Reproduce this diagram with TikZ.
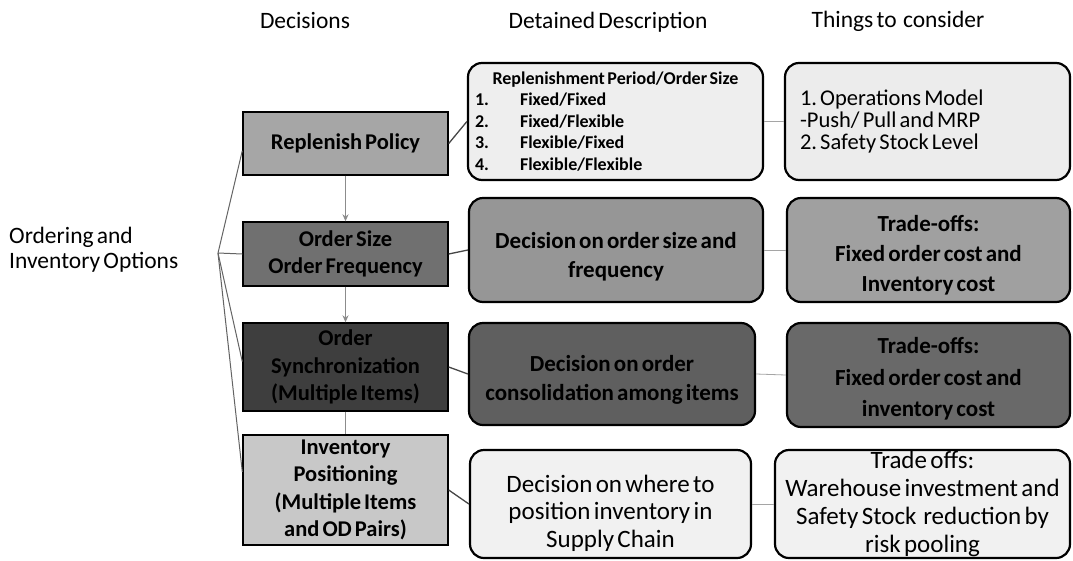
\documentclass[tikz,border=0pt]{standalone}
\usepackage{fontspec}
\setmainfont{Carlito}[WordSpace=0.6]
\usetikzlibrary{arrows.meta}
\definecolor{dA}{RGB}{166,166,166}
\definecolor{dB}{RGB}{112,112,112}
\definecolor{dC}{RGB}{62,62,62}
\definecolor{dD}{RGB}{200,200,200}
\definecolor{mA}{RGB}{238,238,238}
\definecolor{mB}{RGB}{150,150,150}
\definecolor{mC}{RGB}{95,95,95}
\definecolor{mD}{RGB}{241,241,241}
\definecolor{rA}{RGB}{236,236,236}
\definecolor{rB}{RGB}{160,160,160}
\definecolor{rC}{RGB}{105,105,105}
\definecolor{rD}{RGB}{241,241,241}
\definecolor{fanc}{RGB}{100,100,100}
\definecolor{linkc}{RGB}{70,70,70}
\definecolor{softc}{RGB}{165,165,165}
\definecolor{arrc}{RGB}{140,140,140}
\newcommand\fsz[2]{\fontsize{#1}{#2}\selectfont}
\newcommand\tightsp{\spaceskip=0.14em plus 0.05em\xspaceskip=0.14em plus 0.05em\relax}
\newcommand\topstrut[1]{\rule{0pt}{#1}}
\begin{document}
\frenchspacing
\begin{tikzpicture}[x=1pt,y=-1pt,
  decbox/.style={draw=black, line width=1.4pt, minimum width=205pt, inner sep=0pt,
     align=center, font=\fsz{22.5}{27.5}\bfseries},
  roundbox/.style={draw=black, line width=2.2pt, rounded corners=14pt, inner sep=0pt},
  head/.style={anchor=base, font=\fsz{23.5}{26}},
  fanline/.style={draw=fanc, line width=1pt},
  linkline/.style={draw=linkc, line width=1.3pt},
  softline/.style={draw=softc, line width=0.8pt},
  downarrow/.style={draw=arrc, line width=1pt, -{Stealth[length=7pt,width=6pt]}},
]
\useasboundingbox (0,0) rectangle (1073,560);
\fill[white] (0,0) rectangle (1073,560);

% headers
\node[head] (h1) at (305,28) {Decisions};
\node[head] (h2) at (608,28) {Detained Description};
\node[head] (h3) at (898,27) {Things to\ \ consider};

% left label
\node[anchor=west, align=left, inner sep=0pt, font=\fsz{23.5}{25}] (lab) at (9,250)
  {Ordering and\\Inventory Options};
\coordinate (fan) at (218,253);

% decision boxes
\node[decbox, fill=dA, minimum height=63pt] (d1) at (345.5,143.5) {Replenish Policy};
\node[decbox, fill=dB, minimum height=64pt] (d2) at (345.5,254) {Order Size\\Order Frequency};
\node[decbox, fill=dC, minimum height=88pt] (d3) at (345.5,367) {Order\\Synchronization\\(Multiple Items)};
\node[decbox, fill=dD, minimum height=110pt] (d4) at (345.5,490) {Inventory\\Positioning\\(Multiple Items\\and OD Pairs)};

% middle boxes
\node[roundbox, fill=mA, minimum width=295pt, minimum height=117pt, text width=295pt,
      align=left, font=\fsz{18}{21.5}\bfseries] (m1) at (615.5,121.5)
  {\tightsp\makebox[295pt]{Replenishment Period/Order Size}\\
   \hspace*{7pt}\makebox[45pt][l]{1.}Fixed/Fixed\\
   \hspace*{7pt}\makebox[45pt][l]{2.}Fixed/Flexible\\
   \hspace*{7pt}\makebox[45pt][l]{3.}Flexible/Fixed\\
   \hspace*{7pt}\makebox[45pt][l]{4.}Flexible/Flexible};
\node[roundbox, fill=mB, minimum width=294pt, minimum height=104pt, align=center,
      font=\fsz{23}{29}\bfseries] (m2) at (616,250)
  {\topstrut{30pt}Decision on order size and\\frequency};
\node[roundbox, fill=mC, minimum width=286pt, minimum height=102pt, align=center,
      font=\fsz{23}{29}\bfseries] (m3) at (612,374)
  {\topstrut{28pt}Decision on order\\consolidation among items};
\node[roundbox, fill=mD, minimum width=281pt, minimum height=108pt, align=center,
      font=\fsz{25}{27.5}] (m4) at (610.5,504)
  {\topstrut{36pt}Decision on where to\\position inventory in\\Supply Chain};

% right boxes
\node[roundbox, fill=rA, minimum width=285pt, minimum height=117pt, text width=255pt,
      inner xsep=15pt, align=left, font=\fsz{22.5}{22}] (r1) at (927.5,121.5)
  {\tightsp 1. Operations Model\\-Push/ Pull and MRP\\2. Safety Stock Level};
\node[roundbox, fill=rB, minimum width=283pt, minimum height=104pt, align=center,
      font=\fsz{23}{30}\bfseries] (r2) at (928.5,250)
  {\topstrut{26pt}Trade-offs:\\Fixed order cost and\\Inventory cost};
\node[roundbox, fill=rC, minimum width=283pt, minimum height=104pt, align=center,
      font=\fsz{23}{31.5}\bfseries] (r3) at (928.5,375)
  {\topstrut{24pt}Trade-offs:\\Fixed order cost and\\inventory cost};
\node[roundbox, fill=rD, minimum width=295pt, minimum height=108pt, align=center,
      font=\fsz{25}{28}] (r4) at (922.5,504)
  {Trade offs:\\Warehouse investment and\\Safety Stock\ \ reduction by\\risk pooling};

% fan connectors
\draw[fanline] (fan) -- (d1.184);
\draw[fanline] (fan) -- (d2.west);
\draw[fanline] (fan) -- (d3.177);
\draw[fanline] (fan) -- (d4.170);

% vertical chain
\draw[downarrow] (d1.south) -- (d2.north);
\draw[downarrow] (d2.south) -- (d3.north);
\draw[draw=arrc, line width=1pt] (d3.south) -- (d4.north);

% decision -> description
\draw[linkline] (d1.east) -- (m1.west);
\draw[linkline] (d2.east) -- (m2.west);
\draw[linkline] (d3.east) -- (m3.west);
\draw[linkline] (d4.east) -- (m4.west);

% description -> considerations
\draw[softline] (m1.east) -- (r1.west);
\draw[softline] (m2.east) -- (r2.west);
\draw[softline] (m3.east) -- (r3.west);
\draw[softline] (m4.east) -- (r4.west);
\end{tikzpicture}
\end{document}
